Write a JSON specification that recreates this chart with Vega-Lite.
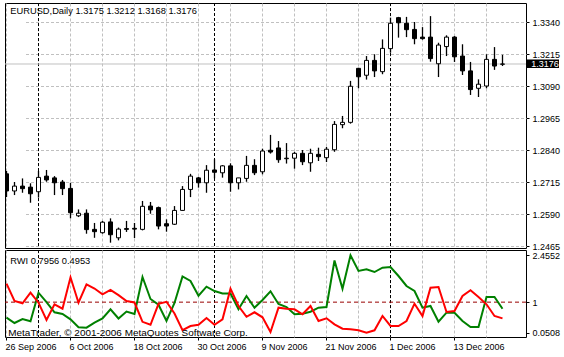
{
  "$schema": "https://vega.github.io/schema/vega-lite/v6.json",
  "padding": {"left": 2, "top": 2, "right": 0, "bottom": 0},
  "background": "white",
  "bounds": "flush",
  "spacing": 2,
  "resolve": {"scale": {"x": "independent"}},
  "config": {
    "font": "Liberation Sans",
    "view": {"stroke": "black", "strokeWidth": 1},
    "axis": {"labelFont": "Liberation Sans", "labelFontSize": 9, "labelColor": "black", "tickColor": "black", "domain": false, "gridColor": "#c0c0c0", "gridDash": [3, 2], "gridWidth": 1, "title": null, "labelOverlap": false, "labelBound": false, "labelFlush": false}
  },
  "datasets": {
    "bars": [
      {"d": "26 Sep 2006", "o": 1.2747, "h": 1.2758, "l": 1.2656, "c": 1.2680, "g": 0.517, "r": 1.573},
      {"d": "27 Sep 2006", "o": 1.2680, "h": 1.2715, "l": 1.2664, "c": 1.2699, "g": 0.352, "r": 1.036},
      {"d": "28 Sep 2006", "o": 1.2699, "h": 1.2729, "l": 1.2673, "c": 1.2689, "g": 0.476, "r": 0.964},
      {"d": "29 Sep 2006", "o": 1.2695, "h": 1.2710, "l": 1.2634, "c": 1.2669, "g": 0.405, "r": 1.293},
      {"d": "2 Oct 2006", "o": 1.2677, "h": 1.2758, "l": 1.2654, "c": 1.2733, "g": 1.293, "r": 0.983},
      {"d": "3 Oct 2006", "o": 1.2738, "h": 1.2762, "l": 1.2716, "c": 1.2723, "g": 1.004, "r": 0.445},
      {"d": "4 Oct 2006", "o": 1.2731, "h": 1.2738, "l": 1.2664, "c": 1.2712, "g": 0.685, "r": 0.933},
      {"d": "5 Oct 2006", "o": 1.2715, "h": 1.2723, "l": 1.2664, "c": 1.2689, "g": 0.632, "r": 0.796},
      {"d": "6 Oct 2006", "o": 1.2690, "h": 1.2712, "l": 1.2573, "c": 1.2595, "g": 0.467, "r": 1.772},
      {"d": "9 Oct 2006", "o": 1.2583, "h": 1.2608, "l": 1.2578, "c": 1.2593, "g": 0.219, "r": 0.983},
      {"d": "10 Oct 2006", "o": 1.2593, "h": 1.2608, "l": 1.2513, "c": 1.2529, "g": 0.206, "r": 1.554},
      {"d": "11 Oct 2006", "o": 1.2530, "h": 1.2555, "l": 1.2497, "c": 1.2521, "g": 0.361, "r": 1.424},
      {"d": "12 Oct 2006", "o": 1.2517, "h": 1.2563, "l": 1.2513, "c": 1.2558, "g": 0.492, "r": 1.244},
      {"d": "13 Oct 2006", "o": 1.2559, "h": 1.2573, "l": 1.2478, "c": 1.2509, "g": 0.778, "r": 1.383},
      {"d": "16 Oct 2006", "o": 1.2497, "h": 1.2537, "l": 1.2487, "c": 1.2531, "g": 0.492, "r": 1.216},
      {"d": "17 Oct 2006", "o": 1.2533, "h": 1.2563, "l": 1.2520, "c": 1.2530, "g": 0.709, "r": 1.036},
      {"d": "18 Oct 2006", "o": 1.2534, "h": 1.2555, "l": 1.2496, "c": 1.2531, "g": 0.632, "r": 0.989},
      {"d": "19 Oct 2006", "o": 1.2530, "h": 1.2641, "l": 1.2526, "c": 1.2620, "g": 1.781, "r": 0.389},
      {"d": "20 Oct 2006", "o": 1.2621, "h": 1.2637, "l": 1.2591, "c": 1.2606, "g": 1.098, "r": 0.296},
      {"d": "23 Oct 2006", "o": 1.2615, "h": 1.2619, "l": 1.2530, "c": 1.2543, "g": 0.918, "r": 0.949},
      {"d": "24 Oct 2006", "o": 1.2552, "h": 1.2569, "l": 1.2521, "c": 1.2543, "g": 0.414, "r": 1.011},
      {"d": "25 Oct 2006", "o": 1.2550, "h": 1.2621, "l": 1.2547, "c": 1.2604, "g": 0.973, "r": 0.647},
      {"d": "26 Oct 2006", "o": 1.2604, "h": 1.2699, "l": 1.2602, "c": 1.2686, "g": 1.797, "r": 0.128},
      {"d": "27 Oct 2006", "o": 1.2686, "h": 1.2747, "l": 1.2656, "c": 1.2738, "g": 1.657, "r": 0.259},
      {"d": "30 Oct 2006", "o": 1.2731, "h": 1.2735, "l": 1.2693, "c": 1.2712, "g": 1.200, "r": 0.296},
      {"d": "31 Oct 2006", "o": 1.2712, "h": 1.2781, "l": 1.2673, "c": 1.2761, "g": 1.480, "r": 0.507},
      {"d": "1 Nov 2006", "o": 1.2762, "h": 1.2804, "l": 1.2729, "c": 1.2753, "g": 1.346, "r": 0.296},
      {"d": "2 Nov 2006", "o": 1.2751, "h": 1.2781, "l": 1.2732, "c": 1.2778, "g": 1.269, "r": 0.467},
      {"d": "3 Nov 2006", "o": 1.2778, "h": 1.2788, "l": 1.2677, "c": 1.2712, "g": 1.269, "r": 1.418},
      {"d": "6 Nov 2006", "o": 1.2712, "h": 1.2731, "l": 1.2686, "c": 1.2731, "g": 0.778, "r": 0.880},
      {"d": "7 Nov 2006", "o": 1.2729, "h": 1.2817, "l": 1.2716, "c": 1.2780, "g": 1.191, "r": 0.545},
      {"d": "8 Nov 2006", "o": 1.2780, "h": 1.2804, "l": 1.2742, "c": 1.2751, "g": 0.827, "r": 0.685},
      {"d": "9 Nov 2006", "o": 1.2755, "h": 1.2845, "l": 1.2745, "c": 1.2836, "g": 1.067, "r": 0.529},
      {"d": "10 Nov 2006", "o": 1.2839, "h": 1.2899, "l": 1.2826, "c": 1.2832, "g": 1.337, "r": 0.073},
      {"d": "13 Nov 2006", "o": 1.2848, "h": 1.2875, "l": 1.2790, "c": 1.2802, "g": 0.942, "r": 0.827},
      {"d": "14 Nov 2006", "o": 1.2806, "h": 1.2867, "l": 1.2787, "c": 1.2808, "g": 0.849, "r": 0.796},
      {"d": "15 Nov 2006", "o": 1.2808, "h": 1.2833, "l": 1.2767, "c": 1.2827, "g": 0.622, "r": 0.778},
      {"d": "16 Nov 2006", "o": 1.2827, "h": 1.2840, "l": 1.2781, "c": 1.2794, "g": 0.641, "r": 0.622},
      {"d": "17 Nov 2006", "o": 1.2790, "h": 1.2845, "l": 1.2755, "c": 1.2827, "g": 0.703, "r": 0.880},
      {"d": "20 Nov 2006", "o": 1.2823, "h": 1.2849, "l": 1.2797, "c": 1.2814, "g": 0.827, "r": 0.414},
      {"d": "21 Nov 2006", "o": 1.2810, "h": 1.2852, "l": 1.2793, "c": 1.2843, "g": 0.849, "r": 0.498},
      {"d": "22 Nov 2006", "o": 1.2841, "h": 1.2953, "l": 1.2833, "c": 1.2940, "g": 2.294, "r": 0.312},
      {"d": "23 Nov 2006", "o": 1.2939, "h": 1.2973, "l": 1.2925, "c": 1.2948, "g": 1.418, "r": 0.175},
      {"d": "24 Nov 2006", "o": 1.2948, "h": 1.3110, "l": 1.2943, "c": 1.3089, "g": 2.4552, "r": 0.156},
      {"d": "27 Nov 2006", "o": 1.3159, "h": 1.3161, "l": 1.3081, "c": 1.3126, "g": 1.968, "r": 0.125},
      {"d": "28 Nov 2006", "o": 1.3132, "h": 1.3207, "l": 1.3115, "c": 1.3190, "g": 2.020, "r": 0.0508},
      {"d": "29 Nov 2006", "o": 1.3190, "h": 1.3214, "l": 1.3125, "c": 1.3149, "g": 1.936, "r": 0.125},
      {"d": "30 Nov 2006", "o": 1.3146, "h": 1.3272, "l": 1.3136, "c": 1.3237, "g": 2.070, "r": 0.570},
      {"d": "1 Dec 2006", "o": 1.3236, "h": 1.3357, "l": 1.3220, "c": 1.3335, "g": 2.092, "r": 0.259},
      {"d": "4 Dec 2006", "o": 1.3357, "h": 1.3360, "l": 1.3279, "c": 1.3337, "g": 1.812, "r": 0.259},
      {"d": "5 Dec 2006", "o": 1.3335, "h": 1.3360, "l": 1.3281, "c": 1.3310, "g": 1.502, "r": 0.414},
      {"d": "6 Dec 2006", "o": 1.3311, "h": 1.3340, "l": 1.3253, "c": 1.3275, "g": 1.346, "r": 0.952},
      {"d": "7 Dec 2006", "o": 1.3281, "h": 1.3320, "l": 1.3271, "c": 1.3275, "g": 0.827, "r": 0.570},
      {"d": "8 Dec 2006", "o": 1.3281, "h": 1.3363, "l": 1.3185, "c": 1.3197, "g": 0.880, "r": 1.449},
      {"d": "11 Dec 2006", "o": 1.3177, "h": 1.3259, "l": 1.3125, "c": 1.3250, "g": 0.392, "r": 1.470},
      {"d": "12 Dec 2006", "o": 1.3244, "h": 1.3288, "l": 1.3207, "c": 1.3281, "g": 0.672, "r": 0.694},
      {"d": "13 Dec 2006", "o": 1.3281, "h": 1.3285, "l": 1.3184, "c": 1.3204, "g": 0.672, "r": 0.725},
      {"d": "14 Dec 2006", "o": 1.3207, "h": 1.3253, "l": 1.3133, "c": 1.3149, "g": 0.414, "r": 1.191},
      {"d": "15 Dec 2006", "o": 1.3149, "h": 1.3184, "l": 1.3055, "c": 1.3076, "g": 0.228, "r": 1.368},
      {"d": "18 Dec 2006", "o": 1.3081, "h": 1.3116, "l": 1.3047, "c": 1.3097, "g": 0.228, "r": 1.160},
      {"d": "19 Dec 2006", "o": 1.3090, "h": 1.3214, "l": 1.3081, "c": 1.3194, "g": 1.160, "r": 0.933},
      {"d": "20 Dec 2006", "o": 1.3194, "h": 1.3242, "l": 1.3153, "c": 1.3168, "g": 1.160, "r": 0.570},
      {"d": "21 Dec 2006", "o": 1.3175, "h": 1.3212, "l": 1.3168, "c": 1.3176, "g": 0.7956, "r": 0.4953}
    ]
  },
  "vconcat": [
    {
      "width": 521,
      "height": 245,
      "title": {"text": "EURUSD,Daily  1.3175 1.3212 1.3168 1.3176", "anchor": "start", "frame": "group", "orient": "top", "offset": -14, "dx": 5.3, "fontSize": 9.3, "fontWeight": "normal", "font": "Liberation Sans", "color": "black"},
      "data": {"name": "bars"},
      "layer": [
        {
          "mark": {"type": "rule", "color": "black", "strokeDash": [3, 2], "strokeWidth": 1},
          "encoding": {
            "x": {"field": "d", "type": "ordinal", "sort": null,
              "scale": {"range": [-2.5, 501.5], "paddingInner": 0, "paddingOuter": 0},
              "axis": {"values": ["26 Sep 2006", "2 Oct 2006", "6 Oct 2006", "12 Oct 2006", "18 Oct 2006", "24 Oct 2006", "30 Oct 2006", "3 Nov 2006", "9 Nov 2006", "15 Nov 2006", "21 Nov 2006", "27 Nov 2006", "1 Dec 2006", "7 Dec 2006", "13 Dec 2006", "19 Dec 2006"], "labels": false, "ticks": false, "domain": false, "grid": true, "bandPosition": 0.5}},
            "strokeOpacity": {"condition": {"test": "indexof(['2 Oct 2006','1 Nov 2006','1 Dec 2006'], datum.d) >= 0", "value": 1}, "value": 0}
          }
        },
        {
          "data": {"values": [{}]},
          "mark": {"type": "rule", "color": "#c0c0c0", "strokeWidth": 1},
          "encoding": {"y": {"datum": 1.3176, "type": "quantitative", "scale": {"domain": [1.245719, 1.341422], "nice": false, "zero": false},
            "axis": {"orient": "right", "values": [1.2465, 1.259, 1.2715, 1.284, 1.2965, 1.309, 1.3215, 1.334], "tickCount": 20, "format": ".4f", "grid": true, "ticks": true, "tickSize": 3, "labelPadding": 3}}}
        },
        {
          "mark": {"type": "rule", "color": "black", "strokeWidth": 1.3, "clip": true},
          "encoding": {
            "x": {"field": "d", "type": "ordinal", "sort": null},
            "y": {"field": "l", "type": "quantitative"},
            "y2": {"field": "h"}
          }
        },
        {
          "mark": {"type": "bar", "size": 4, "stroke": "black", "strokeWidth": 1, "clip": true},
          "encoding": {
            "x": {"field": "d", "type": "ordinal", "sort": null},
            "y": {"field": "o", "type": "quantitative"},
            "y2": {"field": "c"},
            "fill": {"condition": {"test": "datum.c > datum.o", "value": "white"}, "value": "black"}
          }
        },
        {
          "data": {"values": [{}]},
          "mark": {"type": "rect", "color": "black", "xOffset": 1, "x2Offset": 33, "yOffset": -4.5, "y2Offset": 4},
          "encoding": {
            "x": {"value": "width"},
            "x2": {"value": "width"},
            "y": {"datum": 1.3176, "type": "quantitative"},
            "y2": {"datum": 1.3176}
          }
        },
        {
          "data": {"values": [{}]},
          "mark": {"type": "text", "color": "white", "align": "left", "baseline": "middle", "dx": 5.3, "fontSize": 9, "font": "Liberation Sans"},
          "encoding": {
            "x": {"value": "width"},
            "y": {"datum": 1.3176, "type": "quantitative"},
            "text": {"value": "1.3176"}
          }
        }
      ]
    },
    {
      "width": 521,
      "height": 87,
      "title": {"text": "RWI 0.7956 0.4953", "anchor": "start", "frame": "group", "orient": "top", "offset": -17, "dx": 5.3, "fontSize": 9.3, "fontWeight": "normal", "font": "Liberation Sans", "color": "black"},
      "data": {"name": "bars"},
      "layer": [
        {
          "mark": {"type": "rule", "color": "black", "strokeDash": [3, 2], "strokeWidth": 1},
          "encoding": {
            "x": {"field": "d", "type": "ordinal", "sort": null,
              "scale": {"range": [-2.5, 501.5], "paddingInner": 0, "paddingOuter": 0},
              "axis": {"values": ["26 Sep 2006", "2 Oct 2006", "6 Oct 2006", "12 Oct 2006", "18 Oct 2006", "24 Oct 2006", "30 Oct 2006", "3 Nov 2006", "9 Nov 2006", "15 Nov 2006", "21 Nov 2006", "27 Nov 2006", "1 Dec 2006", "7 Dec 2006", "13 Dec 2006", "19 Dec 2006"],
                "labelExpr": "indexof(['26 Sep 2006','6 Oct 2006','18 Oct 2006','30 Oct 2006','9 Nov 2006','21 Nov 2006','1 Dec 2006','13 Dec 2006'], datum.value) >= 0 ? datum.value : ''",
                "labelAlign": "left", "labelBaseline": "top", "labelAngle": 0, "labelOffset": -1, "tickSize": 3, "labelPadding": 2, "grid": true, "domain": false, "bandPosition": 0.5,
                "tickOpacity": {"condition": {"test": "indexof(['26 Sep 2006','6 Oct 2006','18 Oct 2006','30 Oct 2006','9 Nov 2006','21 Nov 2006','1 Dec 2006','13 Dec 2006'], datum.value) >= 0", "value": 1}, "value": 0}}},
            "strokeOpacity": {"condition": {"test": "indexof(['2 Oct 2006','1 Nov 2006','1 Dec 2006'], datum.d) >= 0", "value": 1}, "value": 0}
          }
        },
        {
          "data": {"values": [{}]},
          "mark": {"type": "rule", "color": "#990000", "strokeDash": [4, 3], "strokeWidth": 1},
          "encoding": {"y": {"datum": 1, "type": "quantitative", "scale": {"domain": [-0.0828, 2.6199], "nice": false, "zero": false},
            "axis": {"orient": "right", "values": [0.0508, 1, 2.4552], "tickCount": 10, "labelExpr": "datum.value == 1 ? '1' : format(datum.value, '.4f')", "grid": false, "ticks": true, "tickSize": 3, "labelPadding": 3}}}
        },
        {
          "mark": {"type": "line", "color": "#008000", "strokeWidth": 2},
          "encoding": {
            "x": {"field": "d", "type": "ordinal", "sort": null},
            "y": {"field": "g", "type": "quantitative"}
          }
        },
        {
          "mark": {"type": "line", "color": "#ff0000", "strokeWidth": 2},
          "encoding": {
            "x": {"field": "d", "type": "ordinal", "sort": null},
            "y": {"field": "r", "type": "quantitative"}
          }
        },
        {
          "data": {"values": [{"t": "MetaTrader, © 2001-2006 MetaQuotes Software Corp."}]},
          "mark": {"type": "text", "align": "left", "baseline": "alphabetic", "dx": 1.8, "dy": -1.5, "fontSize": 9.95, "font": "Liberation Sans", "color": "black"},
          "encoding": {
            "x": {"datum": "26 Sep 2006", "type": "ordinal"},
            "y": {"value": "height"},
            "text": {"field": "t"}
          }
        }
      ]
    }
  ]
}
